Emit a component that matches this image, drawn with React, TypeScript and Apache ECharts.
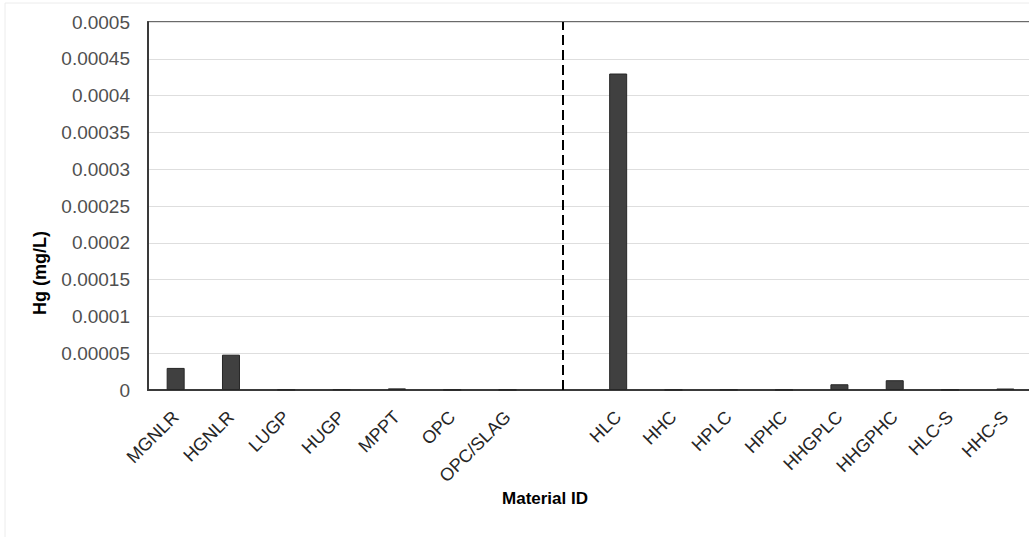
import React, { useEffect, useRef } from "react";
import * as echarts from "echarts";

const categories = [
  "MGNLR", "HGNLR", "LUGP", "HUGP", "MPPT", "OPC", "OPC/SLAG", " ",
  "HLC", "HHC", "HPLC", "HPHC", "HHGPLC", "HHGPHC", "HLC-S", "HHC-S",
];
const hgValues = [
  0.00003, 0.000048, 0.0000005, 0.000001, 0.0000022, 0.0000003, 0.0000003, null,
  0.00043, 0.0000003, 0.0000005, 0.0000003, 0.0000078, 0.0000133, 0.0000003, 0.000002,
];
const yTicks = { min: 0, max: 0.0005, interval: 0.00005 };
const dividerIndex = 7;

export default function App() {
  const ref = useRef<HTMLDivElement>(null);
  useEffect(() => {
    if (!ref.current) return;
    const chart = echarts.init(ref.current, null, { renderer: "svg" });
    const font = "Liberation Sans, Arial, sans-serif";
    chart.setOption({
      animation: false,
      backgroundColor: "#ffffff",
      grid: {
        left: 148,
        top: 22,
        bottom: 147,
        right: 1,
        show: true,
        borderColor: "#3a3a3a",
        borderWidth: 1.5,
      },
      xAxis: {
        type: "category",
        data: categories,
        axisLine: { lineStyle: { color: "#3a3a3a", width: 2 } },
        axisTick: { show: false },
        axisLabel: {
          rotate: 45,
          interval: 0,
          margin: 24,
          color: "#262626",
          fontSize: 18,
          fontFamily: font,
        },
      },
      yAxis: {
        type: "value",
        min: yTicks.min,
        max: yTicks.max,
        interval: yTicks.interval,
        axisLine: { show: true, lineStyle: { color: "#3a3a3a", width: 2 } },
        axisTick: { show: false },
        splitLine: { lineStyle: { color: "#dedede", width: 1 } },
        axisLabel: {
          margin: 18,
          color: "#505050",
          fontSize: 19,
          fontFamily: font,
          formatter: (v: number) => String(+v.toFixed(6)),
        },
      },
      series: [
        {
          type: "bar",
          data: hgValues,
          barWidth: 18,
          itemStyle: { color: "#404040", borderColor: "#262626", borderWidth: 1 },
          markLine: {
            silent: true,
            symbol: "none",
            label: { show: false },
            lineStyle: { color: "#000000", width: 2, type: [10, 5] },
            data: [{ xAxis: dividerIndex }],
          },
        },
      ],
      graphic: [
        {
          type: "rect",
          shape: { x: 5, y: 3, width: 1200, height: 700 },
          style: { fill: "none", stroke: "#ececec", lineWidth: 1 },
          silent: true,
        },
        {
          type: "text",
          x: 545,
          y: 498,
          style: {
            text: "Material ID",
            font: "bold 17px " + font,
            fill: "#000000",
            textAlign: "center",
            textVerticalAlign: "middle",
          },
        },
        {
          type: "text",
          x: 40,
          y: 273,
          rotation: Math.PI / 2,
          style: {
            text: "Hg (mg/L)",
            font: "bold 18px " + font,
            fill: "#000000",
            textAlign: "center",
            textVerticalAlign: "middle",
          },
        },
      ],
    });
    return () => chart.dispose();
  }, []);
  return (
    <div
      style={{
        position: "absolute",
        left: 0,
        top: 0,
        width: 1029,
        height: 537,
        overflow: "hidden",
      }}
    >
      <div ref={ref} style={{ width: 1034, height: 537 }} />
    </div>
  );
}
